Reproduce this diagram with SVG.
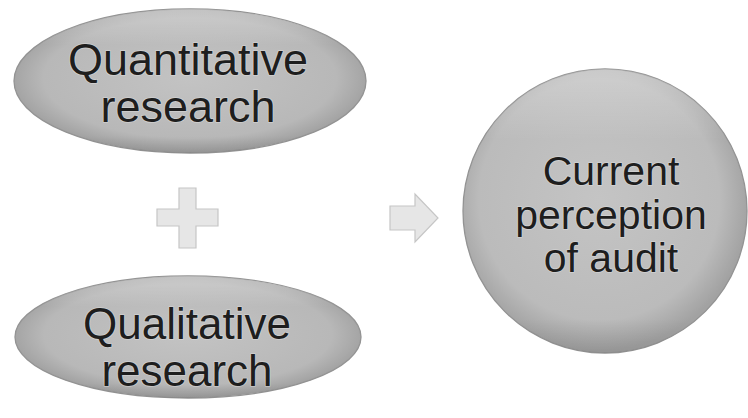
<svg xmlns="http://www.w3.org/2000/svg" width="748" height="418" viewBox="0 0 748 418">
<defs>
<radialGradient id="gEll" cx="50%" cy="48%" r="52%">
<stop offset="0" stop-color="#c3c3c3"/>
<stop offset="0.8" stop-color="#b8b8b8"/>
<stop offset="1" stop-color="#a0a0a0"/>
</radialGradient>
<linearGradient id="gHi" x1="0" y1="0" x2="0" y2="1">
<stop offset="0" stop-color="#ffffff" stop-opacity="0.3"/>
<stop offset="0.25" stop-color="#ffffff" stop-opacity="0"/>
<stop offset="0.88" stop-color="#000000" stop-opacity="0"/>
<stop offset="1" stop-color="#000000" stop-opacity="0.08"/>
</linearGradient>
<radialGradient id="gCir" cx="48%" cy="46%" r="53%">
<stop offset="0" stop-color="#c4c4c4"/>
<stop offset="0.8" stop-color="#bbbbbb"/>
<stop offset="1" stop-color="#a2a2a2"/>
</radialGradient>
</defs>
<style>
.shape{stroke:#939393;stroke-width:1.3}
.lbl{font-family:"Liberation Sans",Arial,sans-serif;fill:#1e1e1e;text-anchor:middle;stroke:#e2e2e2;stroke-width:1.6;stroke-opacity:0.55;paint-order:stroke;stroke-linejoin:round}
.sym{fill:#e6e6e6;stroke:#c6c6c6;stroke-width:1.2}
</style>
<rect width="748" height="418" fill="#ffffff"/>
<g id="quantitative">
<ellipse class="shape" cx="190" cy="81" rx="176" ry="72" fill="url(#gEll)"/>
<ellipse cx="190" cy="81" rx="176" ry="72" fill="url(#gHi)"/>
<text class="lbl" font-size="45" x="188" y="75">Quantitative</text>
<text class="lbl" font-size="45" x="188" y="122">research</text>
</g>
<g id="qualitative">
<ellipse class="shape" cx="188" cy="337" rx="173" ry="61" fill="url(#gEll)"/>
<ellipse cx="188" cy="337" rx="173" ry="61" fill="url(#gHi)"/>
<text class="lbl" font-size="44" x="187" y="339">Qualitative</text>
<text class="lbl" font-size="44" x="187" y="386">research</text>
</g>
<g id="perception">
<circle class="shape" cx="605" cy="211" r="142" fill="url(#gCir)"/>
<circle cx="605" cy="211" r="142" fill="url(#gHi)"/>
<text class="lbl" font-size="41" x="611" y="185">Current</text>
<text class="lbl" font-size="41" x="611" y="229">perception</text>
<text class="lbl" font-size="41" x="611" y="272">of audit</text>
</g>
<g id="connectors">
<path class="sym" d="M179 188 H196 V209 H218 V226 H196 V248 H179 V226 H157 V209 H179 Z"/>
<path class="sym" d="M390 206 H415 V194 L438 218 L415 242 V230 H390 Z"/>
</g>
</svg>
